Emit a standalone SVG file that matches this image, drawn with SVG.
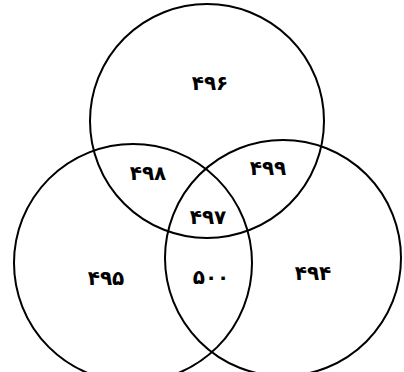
<svg xmlns="http://www.w3.org/2000/svg" width="404" height="372" viewBox="0 0 404 372">
<style>
.c{fill:none;stroke:#000;stroke-width:2}
.t{font-family:"DejaVu Sans","Noto Sans",sans-serif;font-weight:bold;font-size:20px;letter-spacing:2px;text-anchor:middle;dominant-baseline:central;fill:#000}
</style>
<rect width="404" height="372" fill="#fff"/>
<g id="top"><circle class="c" cx="207" cy="121" r="117"/></g>
<g id="left"><circle class="c" cx="133" cy="263" r="119"/></g>
<g id="right"><circle class="c" cx="283" cy="258" r="118"/></g>
<g id="labels">
<text class="t" x="210" y="83">۴۹۶</text>
<text class="t" x="148" y="173">۴۹۸</text>
<text class="t" x="268" y="168">۴۹۹</text>
<text class="t" x="208" y="217">۴۹۷</text>
<text class="t" x="106" y="278">۴۹۵</text>
<text class="t" x="211" y="277">۵۰۰</text>
<text class="t" x="313" y="273">۴۹۴</text>
</g>
</svg>
